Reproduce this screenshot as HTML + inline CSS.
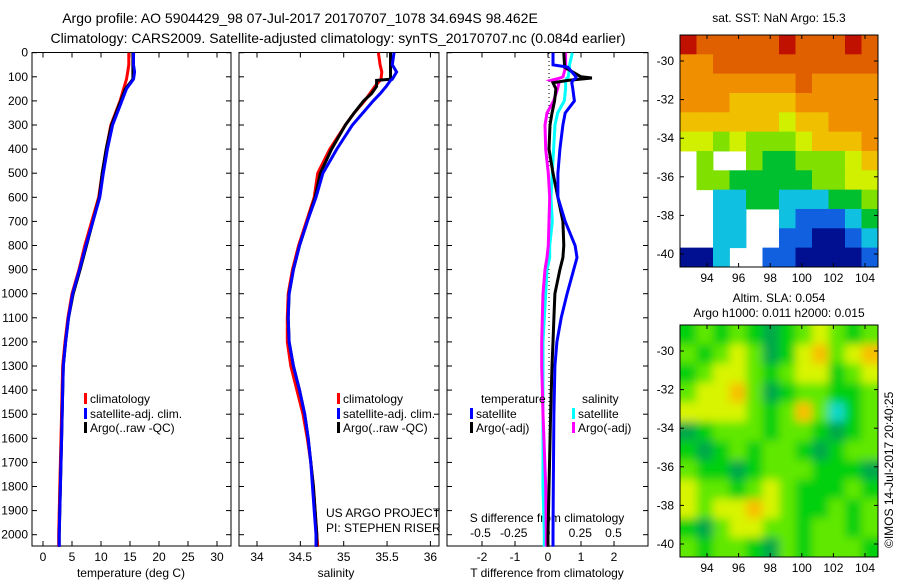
<!DOCTYPE html>
<html><head><meta charset="utf-8">
<style>
body{margin:0;background:#fff;width:900px;height:580px;overflow:hidden}
svg{font-family:"Liberation Sans",sans-serif;font-size:12px}
</style></head><body>
<svg id="fig" width="900" height="580" viewBox="0 0 900 580" xmlns="http://www.w3.org/2000/svg">
<text x="300" y="23" font-size="14" text-anchor="middle">Argo profile: AO 5904429_98 07-Jul-2017 20170707_1078 34.694S 98.462E</text>
<text x="338" y="43" font-size="14" text-anchor="middle">Climatology: CARS2009. Satellite-adjusted climatology: synTS_20170707.nc (0.084d earlier)</text>
<g id="g1"></g>
<g id="g2"></g>
<g id="g3"></g>
<g id="g4"></g>
<g id="g5"></g>
<defs><filter id="bl" x="0" y="0" width="1" height="1"><feGaussianBlur stdDeviation="4.5"/></filter>
<clipPath id="c5"><rect x="680" y="325" width="198" height="232"/></clipPath></defs>
<text transform="translate(893,548) rotate(-90)" font-size="12">©IMOS 14-Jul-2017 20:40:25</text>
</svg>
<script>
// ---- data ----
const depthTicks=[0,100,200,300,400,500,600,700,800,900,1000,1100,1200,1300,1400,1500,1600,1700,1800,1900,2000];
const tDepth=[0,50,80,110,150,200,300,400,500,600,700,800,900,1000,1100,1200,1300,1400,1600,1800,2000,2050];
const tClim=[14.8,14.8,14.6,14.4,13.9,13.3,11.7,10.9,10.2,9.6,8.4,7.2,6.2,5.0,4.3,3.8,3.4,3.3,3.1,2.9,2.7,2.7];
const tSat=[15.6,15.6,15.8,15.6,14.4,13.6,12.0,11.1,10.4,9.8,8.6,7.4,6.3,5.1,4.4,3.9,3.5,3.4,3.2,3.0,2.8,2.8];
const tArgo=[15.5,15.5,15.5,15.5,14.2,13.4,11.8,10.9,10.2,9.7,8.6,7.5,6.4,5.2,4.4,3.9,3.5,3.4,3.2,3.0,2.8,2.8];
const sDepth=[0,50,80,110,115,140,170,200,250,300,400,500,600,700,800,900,1000,1100,1200,1300,1400,1500,1600,1700,1800,1900,2000,2050];
const sClim=[35.40,35.42,35.44,35.43,35.42,35.36,35.30,35.24,35.12,35.02,34.84,34.70,34.66,34.57,34.48,34.41,34.36,34.35,34.35,34.39,34.46,34.53,34.58,34.62,34.65,34.67,34.69,34.70];
const sSat=[35.58,35.56,35.61,35.56,35.54,35.49,35.42,35.34,35.22,35.10,34.92,34.76,34.68,34.58,34.49,34.42,34.37,34.36,34.37,34.42,34.49,34.55,34.59,34.62,34.64,34.66,34.68,34.68];
const sArgo=[35.54,35.54,35.54,35.54,35.38,35.38,35.32,35.23,35.12,35.02,34.86,34.73,34.67,34.58,34.49,34.42,34.37,34.36,34.37,34.42,34.49,34.55,34.59,34.62,34.65,34.67,34.69,34.69];
const dDepth=[0,50,60,100,105,115,125,150,200,250,300,400,500,600,700,800,850,900,1000,1100,1200,1300,1500,1800,2000,2050];
const dTsat=[0.15,0.15,0.6,0.85,0.85,0.75,0.72,0.75,0.8,0.52,0.45,0.36,0.3,0.3,0.52,0.82,0.88,0.78,0.58,0.4,0.27,0.21,0.18,0.16,0.15,0.15];
const dTargo=[0.48,0.5,0.5,1.0,1.33,0.6,0.15,0.24,0.2,0.12,0.06,0.03,0.15,0.3,0.45,0.48,0.45,0.36,0.21,0.18,0.15,0.12,0.08,0.03,0.0,0.0];
const dSsat=[0.19,0.17,0.17,0.16,0.15,0.14,0.14,0.14,0.13,0.08,0.06,0.05,0.04,0.03,0.04,0.02,0.02,0.0,-0.01,-0.02,-0.03,-0.03,-0.03,-0.03,-0.02,-0.02];
const dSargo=[0.14,0.14,0.14,0.12,0.1,0.03,0.09,0.08,0.05,0.0,-0.015,-0.01,0.01,0.02,0.015,0.01,0.0,-0.015,-0.03,-0.035,-0.04,-0.04,-0.03,-0.01,-0.005,-0.005];
const tTicks=[0,5,10,15,20,25,30];
const sTicks=[34,34.5,35,35.5,36];
const sTickLabels=["34","34.5","35","35.5","36"];
const dTTicks=[-2,-1,0,1,2];
const dSTicks=[-0.5,-0.25,0,0.25,0.5];
const dSTickLabels=["-0.5","-0.25","0","0.25","0.5"];
const lonTicks=[94,96,98,100,102,104];
const latTicks=[-30,-32,-34,-36,-38,-40];
const sstGrid=[
[9,8,8,8,8,8,9,8,8,8,9,8],
[7,7,8,8,8,8,8,8,8,8,8,8],
[7,7,7,7,7,7,7,8,7,7,7,7],
[7,7,7,6,6,6,6,7,7,7,7,7],
[6,6,6,6,6,6,5,6,6,7,7,7],
[5,5,4,5,4,4,4,5,6,6,6,7],
[-1,4,-1,-1,4,3,3,4,4,4,5,6],
[-1,4,4,3,3,3,3,3,4,4,5,5],
[-1,-1,2,2,3,3,2,2,2,3,3,4],
[-1,-1,2,2,-1,-1,2,1,1,1,2,3],
[-1,-1,2,2,-1,-1,1,1,0,0,1,2],
[0,0,2,-1,-1,1,1,0,0,0,0,1]];
const slaGrid=[
[1,2,1,2,1,0,1,2,3,2,1,2],
[2,1,2,3,2,0,1,3,4,2,3,4],
[1,2,3,3,2,1,2,3,3,1,2,3],
[2,3,3,4,2,0,1,2,2,1,1,2],
[3,3,3,3,2,1,2,4,2,-1,1,2],
[0,1,2,2,2,1,2,2,1,0,1,2],
[1,0,1,2,1,2,2,1,0,1,2,2],
[2,1,1,0,1,2,2,2,1,1,1,0],
[3,2,2,1,2,3,2,1,1,1,2,1],
[3,2,3,3,4,3,2,1,1,2,1,2],
[1,0,2,3,3,2,2,1,2,2,1,2],
[2,1,2,2,1,0,2,1,2,2,2,1]];
// ---- helpers ----
const NS="http://www.w3.org/2000/svg";
function mk(p,t,a){const e=document.createElementNS(NS,t);for(const k in a)e.setAttribute(k,a[k]);p.appendChild(e);return e;}
const yD=d=>52.7+d*0.241;
const xT=t=>43+t*5.8;
const xS=s=>257+(s-34)*86.7;
const xDT=v=>548+v*33;
const xDS=v=>547+v*133;
function line(g,xs,ds,fx,col,name){
  const p=mk(g,'polyline',{points:xs.map((v,i)=>fx(v).toFixed(1)+','+yD(ds[i]).toFixed(1)).join(' '),fill:'none',stroke:col,'stroke-width':3});
  
  
}
function frame(g,x0,x1,name){
  const r=mk(g,'rect',{x:x0,y:52.5,width:x1-x0,height:493.5,fill:'none',stroke:'#000','stroke-width':1});
  
  
  depthTicks.forEach(d=>{mk(g,'line',{x1:x0,x2:x0+5,y1:yD(d),y2:yD(d),stroke:'#000'});mk(g,'line',{x1:x1,x2:x1-5,y1:yD(d),y2:yD(d),stroke:'#000'});});
}
function xticks(g,vals,labels,fx,yLab){
  vals.forEach((v,i)=>{const x=fx(v);mk(g,'line',{x1:x,x2:x,y1:52.5,y2:57.5,stroke:'#000'});mk(g,'line',{x1:x,x2:x,y1:546,y2:541,stroke:'#000'});
   const t=mk(g,'text',{x:x,y:yLab,'text-anchor':'middle'});t.textContent=labels[i];
   
   });
}
function txt(g,x,y,s,name,anchor){const t=mk(g,'text',{x:x,y:y,'text-anchor':anchor||'start'});t.textContent=s;
 
 return t;}
function leg(g,x,y,col,s,name){mk(g,'rect',{x:x,y:y-10,width:3,height:11,fill:col});txt(g,x+6,y,s,name);}
// ---- panel 1 ----
const g1=document.getElementById('g1');
frame(g1,32,231,'temperature-axes');
depthTicks.forEach(d=>{const t=txt(g1,28,yD(d)+4,String(d),'depth-tick-label','end');});
xticks(g1,tTicks,tTicks.map(String),xT,561);
txt(g1,131,577,'temperature (deg C)','x-axis-title','middle');
line(g1,tClim,tDepth,xT,'#f00','temp-climatology-line');
line(g1,tArgo,tDepth,xT,'#000','temp-argo-line');
line(g1,tSat,tDepth,xT,'#00f','temp-satellite-line');
leg(g1,84,403,'#f00','climatology','legend-climatology');
leg(g1,84,418,'#00f','satellite-adj. clim.','legend-satellite');
leg(g1,84,432,'#000','Argo(..raw -QC)','legend-argo');
// ---- panel 2 ----
const g2=document.getElementById('g2');
frame(g2,239,439,'salinity-axes');
xticks(g2,sTicks,sTickLabels,xS,561);
txt(g2,336,577,'salinity','x-axis-title','middle');
line(g2,sClim,sDepth,xS,'#f00','sal-climatology-line');
line(g2,sArgo,sDepth,xS,'#000','sal-argo-line');
line(g2,sSat,sDepth,xS,'#00f','sal-satellite-line');
leg(g2,337,403,'#f00','climatology','legend-climatology');
leg(g2,337,418,'#00f','satellite-adj. clim.','legend-satellite');
leg(g2,337,432,'#000','Argo(..raw -QC)','legend-argo');
txt(g2,326,517,'US ARGO PROJECT','project-label');
txt(g2,326,532,'PI: STEPHEN RISER','pi-label');
// ---- panel 3 ----
const g3=document.getElementById('g3');
frame(g3,447,648,'difference-axes');
mk(g3,'line',{x1:549,x2:549,y1:53,y2:546,stroke:'#000','stroke-dasharray':'1,3'});
xticks(g3,dTTicks,dTTicks.map(String),xDT,561);
dSTicks.forEach((v,i)=>{const t=txt(g3,xDS(v),537,dSTickLabels[i],'s-tick-label','middle');});
txt(g3,547,522,'S difference from climatology','s-axis-title','middle');
txt(g3,547,577,'T difference from climatology','t-axis-title','middle');
line(g3,dSsat,dDepth,xDS,'#0ff','s-diff-satellite-line');
line(g3,dSargo,dDepth,xDS,'#f0f','s-diff-argo-line');
line(g3,dTargo,dDepth,xDT,'#000','t-diff-argo-line');
line(g3,dTsat,dDepth,xDT,'#00f','t-diff-satellite-line');
txt(g3,481,403,'temperature','legend-temperature-header');
leg(g3,470,418,'#00f','satellite','legend-t-satellite');
leg(g3,470,432,'#000','Argo(-adj)','legend-t-argo');
txt(g3,582,403,'salinity','legend-salinity-header');
leg(g3,572,418,'#0ff','satellite','legend-s-satellite');
leg(g3,572,432,'#f0f','Argo(-adj)','legend-s-argo');
// ---- maps ----
const sstCol=['#001090','#1060e0','#10c0e0','#00c030','#80e000','#d0f000','#f0c000','#f09000','#e06000','#c01000'];
const slaCol={'-1':'#10d8c8','0':'#00a848','1':'#00d010','2':'#60e800','3':'#d8f400','4':'#f8c000'};
const mLon=x=>707+(x-94)*15.8;
function mapAxes(g,y0,h,latY){
  const x0=680,w=198;
  mk(g,'rect',{x:x0,y:y0,width:w,height:h,fill:'none',stroke:'#000'});
  lonTicks.forEach(l=>{const x=mLon(l);mk(g,'line',{x1:x,x2:x,y1:y0,y2:y0+4,stroke:'#000'});mk(g,'line',{x1:x,x2:x,y1:y0+h,y2:y0+h-4,stroke:'#000'});
   txt(g,x,y0+h+15,String(l),'lon-tick-label','middle');});
  latTicks.forEach(l=>{const y=latY(l);mk(g,'line',{x1:x0,x2:x0+4,y1:y,y2:y,stroke:'#000'});mk(g,'line',{x1:x0+w,x2:x0+w-4,y1:y,y2:y,stroke:'#000'});
   txt(g,674,y+4,String(l),'lat-tick-label','end');});
}
const g4=document.getElementById('g4');
txt(g4,779,22,'sat. SST: NaN Argo: 15.3','sst-map-title','middle');
sstGrid.forEach((row,r)=>row.forEach((v,c)=>{if(v<0)return;
 const cell=mk(g4,'rect',{x:680+c*16.5,y:35+r*19.33,width:16.9,height:19.8,fill:sstCol[v]});
 
 }));
mapAxes(g4,35,232,l=>61+(-30-l)*19.3);
const g5=document.getElementById('g5');
txt(g5,779,302,'Altim. SLA: 0.054','sla-map-title','middle');
txt(g5,779,317,'Argo h1000: 0.011 h2000: 0.015','sla-map-subtitle','middle');
const gb=mk(g5,'g',{'clip-path':'url(#c5)'});
const gf=mk(gb,'g',{filter:'url(#bl)'});
mk(gf,'rect',{x:670,y:315,width:218,height:252,fill:'#40d820'});
slaGrid.forEach((row,r)=>row.forEach((v,c)=>{
 const cell=mk(gf,'rect',{x:680+c*16.5-(c==0?10:0),y:325+r*19.33-(r==0?10:0),width:16.9+(c==0||c==11?10:0),height:19.8+(r==0||r==11?10:0),fill:slaCol[v]});
 
 }));
mapAxes(g5,325,232,l=>351+(-30-l)*19.3);
</script>
</body></html>
